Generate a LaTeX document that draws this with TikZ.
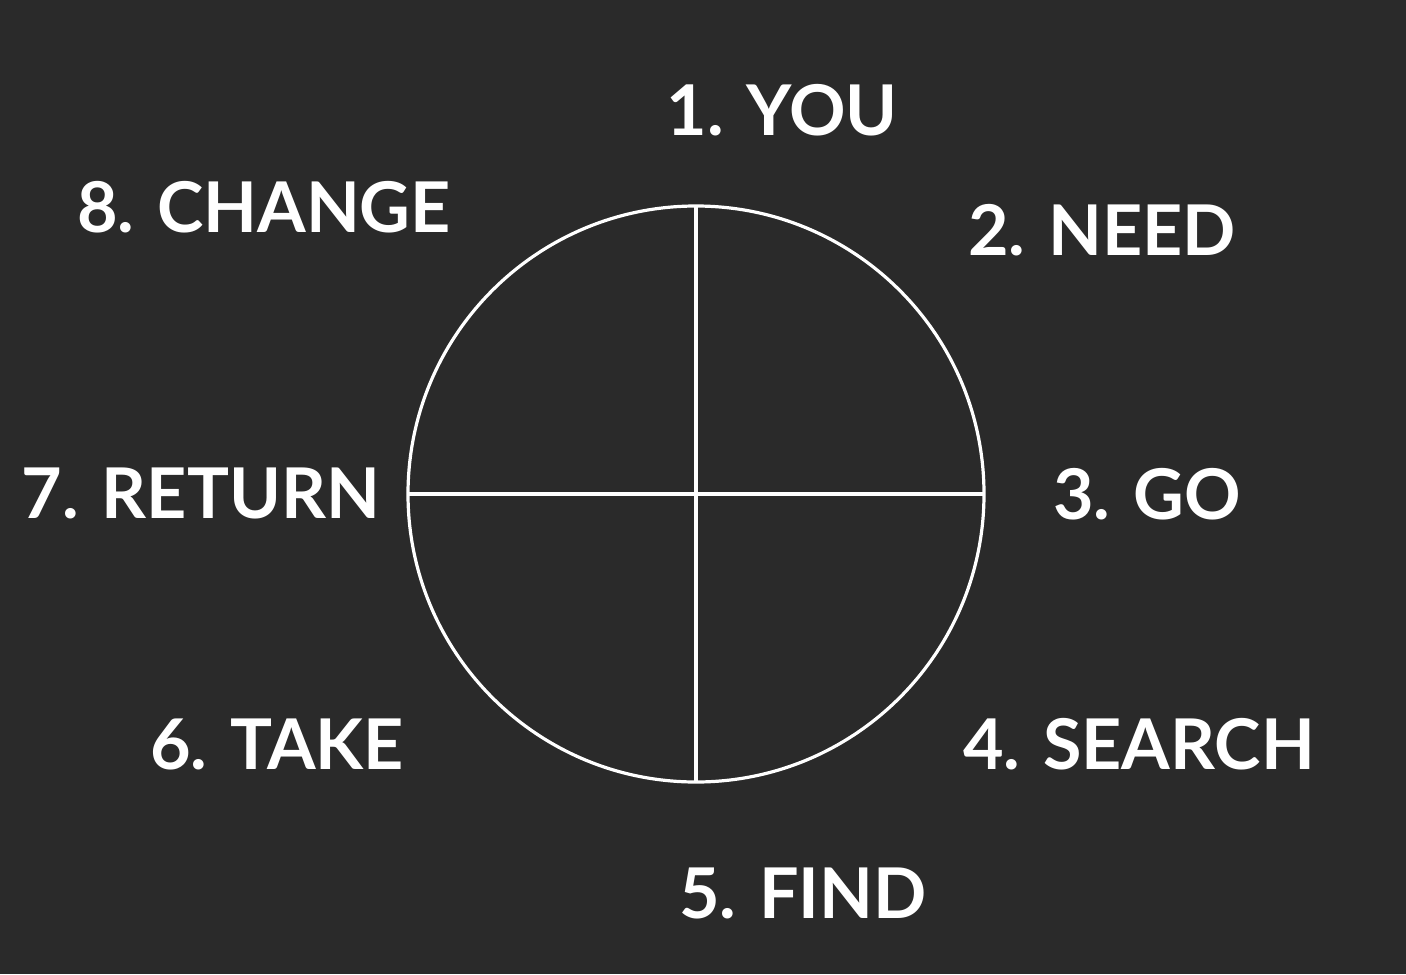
\documentclass[tikz,border=0pt]{standalone}
\usepackage{fontspec}
\setmainfont{Lato}
\definecolor{board}{HTML}{2A2A2A}

\begin{document}
\begin{tikzpicture}[x=0.5pt,y=-0.5pt,
  step label/.style={text=white,font=\fontsize{35}{35}\selectfont\bfseries,inner sep=0pt}]

\fill[board] (0,0) rectangle (1406,974);

\node[draw=white,line width=1.6pt,circle,minimum size=288pt,inner sep=0pt,outer sep=0pt] (wheel) at (696,494) {};
\draw[white,line width=1.6pt] (wheel.north) -- (wheel.south);
\draw[white,line width=1.6pt] (wheel.west) -- (wheel.east);

\node[step label] (you) at (782,110) {1. YOU};
\node[step label] (need) at (1102,230) {2. NEED};
\node[step label] (go) at (1147,494) {3. GO};
\node[step label] (search) at (1139,744) {4. SEARCH};
\node[step label] (find) at (803,893) {5. FIND};
\node[step label] (take) at (277,744) {6. TAKE};
\node[step label] (return) at (201,493) {7. RETURN};
\node[step label] (change) at (264,207) {8. CHANGE};

\end{tikzpicture}
\end{document}
